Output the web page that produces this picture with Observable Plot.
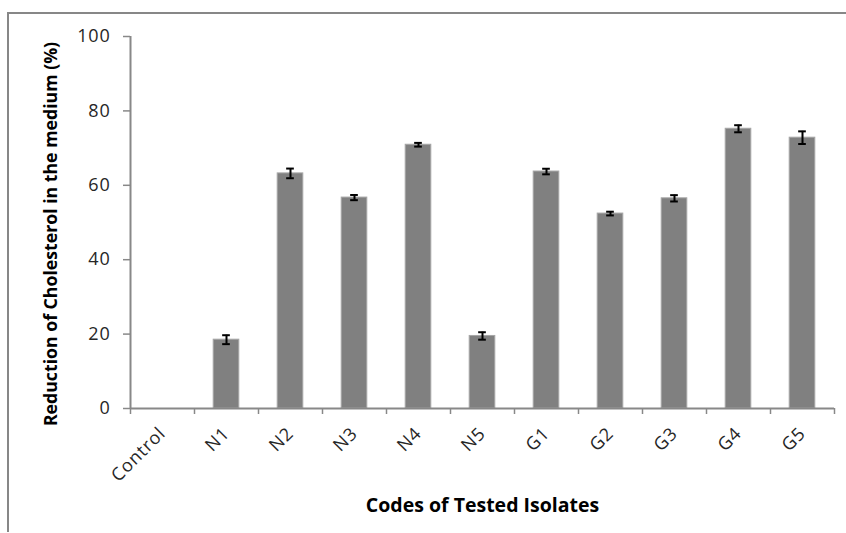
<!DOCTYPE html>
<html>
<head>
<meta charset="utf-8">
<script src="https://cdn.jsdelivr.net/npm/d3@7"></script>
<script src="https://cdn.jsdelivr.net/npm/@observablehq/plot@0.6"></script>
<style>
  html, body { margin: 0; padding: 0; background: #fff; }
  #wrap { position: relative; width: 846px; height: 533px; overflow: hidden; }
  #frame { position: absolute; left: 7px; top: 12px; width: 860px; height: 520px;
           border-top: 2px solid #878787; border-left: 2px solid #878787; box-sizing: border-box; }
  #chart { position: absolute; left: 0; top: 0; }
  #chart svg text { font-family: 'Open Sans', sans-serif; font-size: 18px; fill: #262626; }
  #chart svg g[aria-label$='tick label'] text { letter-spacing: 0.8px; }
  #chart svg g[aria-label='x-axis label'] text { font-size: 19.5px; font-weight: bold; fill: #000; }
  #chart svg g[aria-label='y-axis label'] text { font-size: 17.7px; font-weight: bold; fill: #000; }
</style>
</head>
<body>
<div id="wrap"><div id="frame"></div><div id="chart"></div></div>
<script>
const categories = ["Control", "N1", "N2", "N3", "N4", "N5", "G1", "G2", "G3", "G4", "G5"];
const values = [0, 18.5, 63.2, 56.7, 70.9, 19.5, 63.7, 52.4, 56.5, 75.2, 72.8];
const errors = [0, 1.2, 1.3, 0.7, 0.5, 1.0, 0.75, 0.5, 0.85, 0.95, 1.7];
const yTicks = [0, 20, 40, 60, 80, 100];

const data = categories.map((c, i) => ({ name: c, i, value: values[i], err: errors[i] }));
const withErr = data.filter(d => d.err > 0);
const boundaries = d3.range(categories.length + 1);
const centers = categories.map((c, i) => i + 0.5);

const chart = Plot.plot({
  width: 846,
  height: 533,
  marginLeft: 130,
  marginRight: 12,
  marginTop: 36,
  marginBottom: 125,
  style: { fontFamily: "'Open Sans', sans-serif", fontSize: "18px", background: "transparent", overflow: "visible" },
  x: { type: "linear", domain: [0, categories.length] },
  y: { domain: [0, 100] },
  marks: [
    Plot.rectY(data, {
      x1: d => d.i + 0.3, x2: d => d.i + 0.7, y1: 0, y2: "value",
      fill: "#808080", stroke: "#a6a6a6", strokeWidth: 1
    }),
    Plot.ruleX(withErr, { x: d => d.i + 0.5, y1: d => d.value - d.err, y2: d => d.value + d.err, stroke: "#000", strokeWidth: 2 }),
    Plot.ruleY(withErr, { x1: d => d.i + 0.44, x2: d => d.i + 0.56, y: d => d.value + d.err, stroke: "#000", strokeWidth: 2 }),
    Plot.ruleY(withErr, { x1: d => d.i + 0.44, x2: d => d.i + 0.56, y: d => d.value - d.err, stroke: "#000", strokeWidth: 2 }),
    Plot.axisX({ ticks: boundaries, tickSize: 6, tickFormat: () => "", stroke: "#888", strokeWidth: 1.5 }),
    Plot.axisX({
      ticks: centers, tickSize: 0, tickPadding: 22, tickRotate: -45,
      tickFormat: (v) => categories[Math.round(v - 0.5)],
      fontSize: 18,
      label: "Codes of Tested Isolates", labelAnchor: "center", labelOffset: 103, labelArrow: "none"
    }),
    Plot.axisY({
      ticks: yTicks, tickSize: 7, tickPadding: 13, stroke: "#888", strokeWidth: 1.5,
      fontSize: 18,
      label: "Reduction of Cholesterol in the medium (%)", labelAnchor: "center", labelOffset: 86, labelArrow: "none"
    }),
    Plot.ruleY([0], { stroke: "#888", strokeWidth: 2 }),
    Plot.ruleX([0], { stroke: "#888", strokeWidth: 2 })
  ]
});

document.getElementById("chart").appendChild(chart);

chart.querySelectorAll("g[aria-label$='tick label'] text").forEach(t => {
  t.style.fontFamily = "'Open Sans', sans-serif";
  t.style.fontSize = "18px";
  t.style.letterSpacing = "0.8px";
  t.style.fill = "#262626";
});
chart.querySelectorAll("g[aria-label='x-axis label'] text").forEach(t => {
  t.style.fontSize = "19.5px";
  t.style.fontWeight = "bold";
  t.style.fill = "#000";
});
chart.querySelectorAll("g[aria-label='y-axis label'] text").forEach(t => {
  t.style.fontSize = "17.7px";
  t.style.fontWeight = "bold";
  t.style.fill = "#000";
  t.setAttribute("transform", (t.getAttribute("transform") || "") + " translate(-11.5,0)");
});
chart.querySelectorAll("text").forEach(t => t.getBoundingClientRect());
</script>
</body>
</html>
